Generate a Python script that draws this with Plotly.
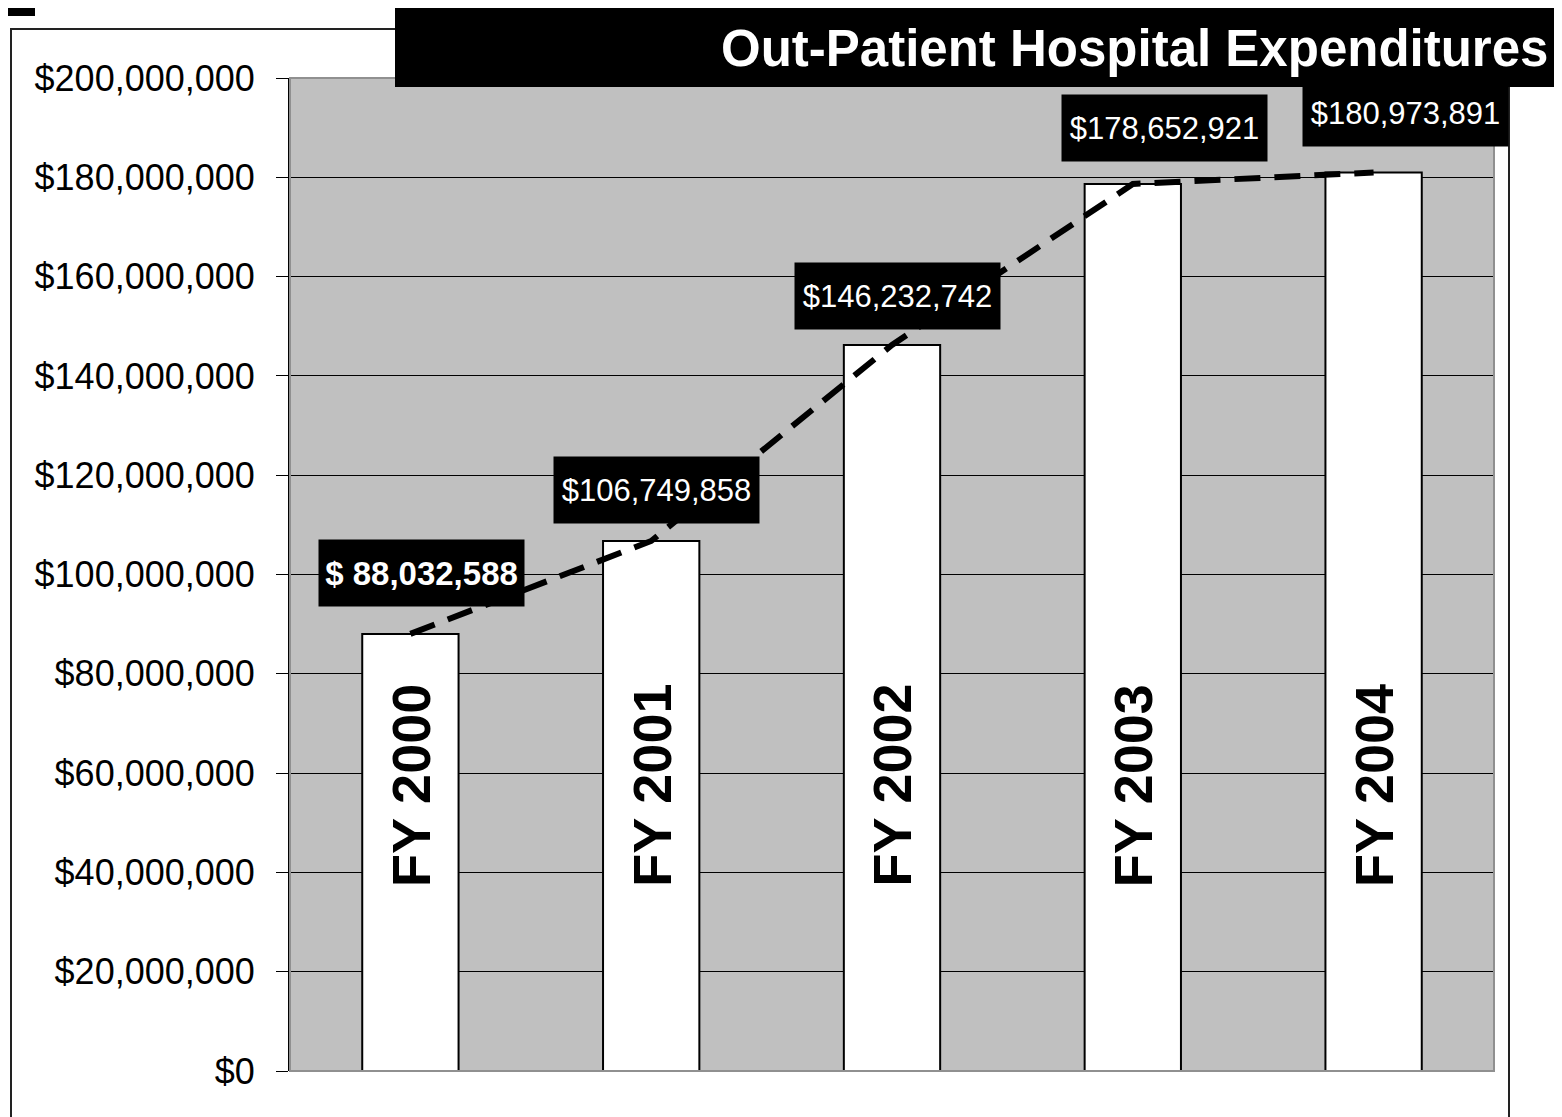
import plotly.graph_objects as go

# ---- data ----
categories = ["FY 2000", "FY 2001", "FY 2002", "FY 2003", "FY 2004"]
expenditures = [88032588, 106749858, 146232742, 178652921, 180973891]
value_labels = ["$ 88,032,588", "$106,749,858", "$146,232,742", "$178,652,921", "$180,973,891"]
y_tick_values = [0, 20000000, 40000000, 60000000, 80000000, 100000000,
                 120000000, 140000000, 160000000, 180000000, 200000000]
title_text = "Out-Patient Hospital Expenditures"

# ---- styling ----
OFF = 8  # page body margin offset
W, H = 1562 - OFF, 1117 - OFF
L, R, T, B = 290 - OFF, 68, 78 - OFF, 46
PW, PH = W - L - R, H - T - B
FONT = "Liberation Sans, Arial, sans-serif"

def px_x(px):
    return (px - OFF - L) / PW

def px_y(py):
    return (H - B - (py - OFF)) / PH

label_shift_x = [11, 5, 5, 32, 32]
label_shift_y = [61, 51, 49, 56, 59]
label_bold = [True, False, False, False, False]

xs = list(range(len(categories)))

fig = go.Figure()
fig.add_trace(go.Bar(
    x=xs, y=expenditures, width=0.4,
    marker=dict(color="white", line=dict(color="black", width=2)),
    showlegend=False, hoverinfo="skip",
))
fig.add_trace(go.Scatter(
    x=xs, y=expenditures, mode="lines",
    line=dict(color="black", width=6, dash="26px,14px"),
    showlegend=False, hoverinfo="skip",
))

annotations = []
for i, (cat, v, lab) in enumerate(zip(categories, expenditures, value_labels)):
    annotations.append(dict(
        x=i, y=57500000, xref="x", yref="y", text=f"<b>{cat}</b>",
        textangle=-90, showarrow=False,
        font=dict(family=FONT, size=54, color="black"),
    ))
    txt = f"<b>{lab}</b>" if label_bold[i] else lab
    annotations.append(dict(
        x=i, y=v, xref="x", yref="y", text=txt, showarrow=False,
        xshift=label_shift_x[i], yshift=label_shift_y[i],
        bgcolor="black", width=205, height=66, borderpad=0,
        font=dict(family=FONT, size=33 if label_bold[i] else 31, color="white"),
    ))

annotations.append(dict(
    x=px_x(1550), y=px_y(48), xref="paper", yref="paper",
    xanchor="right", yanchor="middle", text=f"<b>{title_text}</b>",
    showarrow=False, font=dict(family=FONT, size=51, color="white"),
))

shapes = [
    # outer frame
    dict(type="rect", xref="paper", yref="paper", layer="below",
         x0=px_x(11), x1=px_x(1509), y0=px_y(1140), y1=px_y(29),
         line=dict(color="#222222", width=2), fillcolor="rgba(0,0,0,0)"),
    # plot-area border (gray)
    dict(type="rect", xref="paper", yref="paper", layer="above",
         x0=0, x1=1, y0=0, y1=1,
         line=dict(color="#909090", width=2), fillcolor="rgba(0,0,0,0)"),
    # title box
    dict(type="rect", xref="paper", yref="paper", layer="above",
         x0=px_x(395), x1=px_x(1570), y0=px_y(87), y1=px_y(7),
         line=dict(color="black", width=0), fillcolor="black"),
    # small corner box
    dict(type="rect", xref="paper", yref="paper", layer="above",
         x0=px_x(8), x1=px_x(35), y0=px_y(16), y1=px_y(8),
         line=dict(color="black", width=0), fillcolor="black"),
]

fig.update_layout(
    width=W, height=H,
    margin=dict(l=L, r=R, t=T, b=B, autoexpand=False),
    paper_bgcolor="white", plot_bgcolor="#C0C0C0",
    annotations=annotations, shapes=shapes,
    font=dict(family=FONT, color="black"),
    xaxis=dict(range=[-0.5, 4.5], showticklabels=False, showgrid=False,
               zeroline=False, ticks="", fixedrange=True),
    yaxis=dict(range=[0, 200000000], tickvals=y_tick_values, tickformat="$,.0f",
               showgrid=True, gridcolor="black", gridwidth=1, zeroline=False,
               ticks="outside", ticklen=12, tickcolor="black", tickwidth=1,
               showline=True, linecolor="black", linewidth=2,
               ticklabelstandoff=14,
               tickfont=dict(family=FONT, size=36, color="black")),
    bargap=0.6,
)

fig.write_html("out.html")
